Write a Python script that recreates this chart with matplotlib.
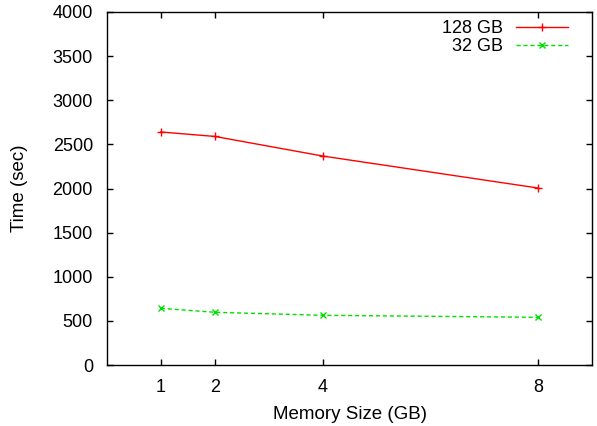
import matplotlib
matplotlib.use("Agg")
import matplotlib.pyplot as plt

plt.rcParams['font.family'] = ['Liberation Sans', 'DejaVu Sans']
plt.rcParams['font.size'] = 13

# data
mem_size = [1, 2, 4, 8]
time_128gb = [2640, 2590, 2368, 2005]
time_32gb = [643, 598, 564, 541]
y_ticks = [0, 500, 1000, 1500, 2000, 2500, 3000, 3500, 4000]

fig = plt.figure(figsize=(5.97, 4.26), dpi=100)
ax = fig.add_axes([0.179, 0.143, 0.813, 0.829])

ax.plot(mem_size, time_128gb, color='#ff0000', lw=1, marker='+', ms=6,
        mew=1, label='128 GB')
ax.plot(mem_size, time_32gb, color='#00e000', lw=1, ls=(0, (3, 2)),
        marker='x', ms=4.5, mew=1, label='32 GB')

ax.set_xlim(0, 9)
ax.set_ylim(0, 4000)
ax.set_xticks(mem_size)
ax.set_yticks(y_ticks)
ax.tick_params(direction='in', length=4, width=1, top=True, right=True,
               pad=10, colors='black')
for s in ax.spines.values():
    s.set_linewidth(1)

ax.set_xlabel('Memory Size (GB)', labelpad=7, fontsize=13.5)
ax.set_ylabel('Time (sec)', labelpad=18, fontsize=13.5)

leg = ax.legend(loc='upper right', frameon=False, markerfirst=False,
                handlelength=2.9, handletextpad=0.75, labelspacing=0.05,
                borderaxespad=0, borderpad=0, bbox_to_anchor=(0.951, 0.976))

fig.savefig('out.png', dpi=100)
